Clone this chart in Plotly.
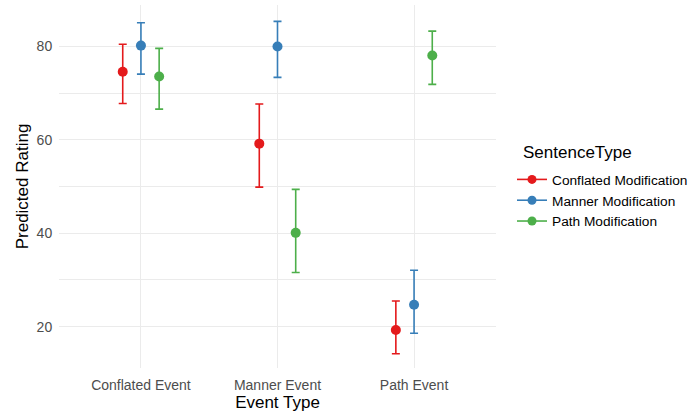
import plotly.graph_objects as go

# Predicted ratings (with confidence limits) by event type and sentence type
event_types = ["Conflated Event", "Manner Event", "Path Event"]
sentence_types = ["Conflated Modification", "Manner Modification", "Path Modification"]

conflated_fit = [74.6, 59.2, 19.3]
conflated_lo = [67.8, 49.9, 14.2]
conflated_hi = [80.5, 67.7, 25.5]

manner_fit = [80.2, 80.0, 24.7]
manner_lo = [74.1, 73.4, 18.6]
manner_hi = [85.1, 85.4, 32.1]

path_fit = [73.6, 40.1, 78.1]
path_lo = [66.6, 31.6, 71.9]
path_hi = [79.6, 49.4, 83.3]

colors = ["#E41A1C", "#377EB8", "#4DAF4A"]
series = [
    (conflated_fit, conflated_lo, conflated_hi),
    (manner_fit, manner_lo, manner_hi),
    (path_fit, path_lo, path_hi),
]

FONT = "Liberation Sans, Arial, sans-serif"
W, H = 690, 416
ML, MR, MT, MB = 59, 194, 5, 48

fig = go.Figure()
for name, color, (fit, lo, hi) in zip(sentence_types, colors, series):
    fig.add_trace(go.Scatter(
        x=event_types, y=fit, mode="markers", name=name,
        offsetgroup=name, showlegend=False,
        marker=dict(color=color, size=10),
        error_y=dict(type="data", symmetric=False,
                     array=[h - f for h, f in zip(hi, fit)],
                     arrayminus=[f - l for f, l in zip(fit, lo)],
                     color=color, thickness=1.6, width=4),
    ))
# legend keys (point + line)
for name, color in zip(sentence_types, colors):
    fig.add_trace(go.Scatter(
        x=[None], y=[None], mode="lines+markers", name=name,
        offsetgroup=name,
        marker=dict(color=color, size=9), line=dict(color=color, width=1.6),
    ))

pw, ph = W - ML - MR, H - MT - MB
grid = "#EBEBEB"
fig.update_layout(
    width=W, height=H,
    margin=dict(l=ML, r=MR, t=MT, b=MB, autoexpand=False),
    paper_bgcolor="white", plot_bgcolor="white",
    scattermode="group", scattergap=0.6,
    font=dict(family=FONT, color="#4D4D4D", size=14),
    legend=dict(
        font=dict(size=13.7, color="black"),
        x=(512 - ML) / pw, xanchor="left",
        y=1 - (164 - MT) / ph, yanchor="top",
        itemwidth=30, tracegroupgap=0,
    ),
    annotations=[dict(
        text="SentenceType", xref="paper", yref="paper",
        x=(521 - ML) / pw, xanchor="left",
        y=1 - (152 - MT) / ph, yanchor="middle",
        showarrow=False, font=dict(size=17, color="black"),
    )],
    xaxis=dict(
        type="category", range=[-0.6, 2.6],
        showgrid=True, gridcolor=grid, gridwidth=1.2,
        zeroline=False, showline=False,
        ticks="outside", ticklen=4, tickcolor="rgba(0,0,0,0)",
        tickfont=dict(size=14, color="#4D4D4D"),
        title=dict(text="Event Type", font=dict(size=17, color="black"), standoff=4),
    ),
    yaxis=dict(
        range=[11.15, 88.9], tick0=0, dtick=20,
        showgrid=True, gridcolor=grid, gridwidth=1.2,
        minor=dict(dtick=10, tick0=0, showgrid=True, gridcolor=grid, gridwidth=0.6),
        zeroline=False, showline=False,
        ticks="outside", ticklen=3, tickcolor="rgba(0,0,0,0)",
        tickfont=dict(size=14, color="#4D4D4D"),
        title=dict(text="Predicted Rating", font=dict(size=17, color="black"), standoff=3),
    ),
)

fig.write_html("out.html")
